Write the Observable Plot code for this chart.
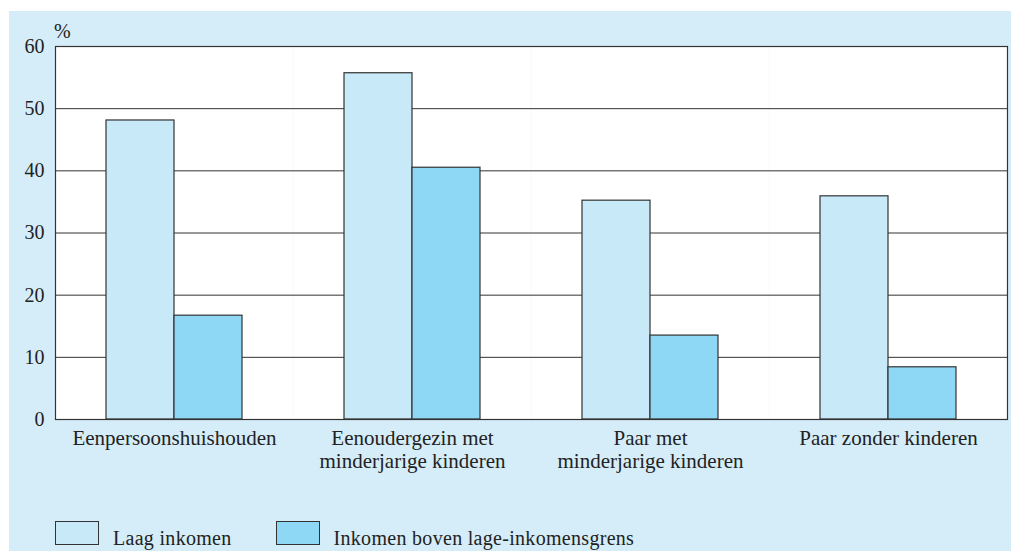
<!DOCTYPE html>
<html>
<head>
<meta charset="utf-8">
<script src="https://cdn.jsdelivr.net/npm/d3@7"></script>
<script src="https://cdn.jsdelivr.net/npm/@observablehq/plot@0.6"></script>
<style>
  html, body { margin: 0; padding: 0; background: #ffffff; }
  #panel {
    position: absolute; left: 9px; top: 11px; width: 1002px; height: 540px;
    background: #d5edf9; font-family: "Liberation Serif", serif; color: #222;
  }
  #chart svg { display: block; }
  #pct { position: absolute; left: 45px; top: 10px; font-size: 20px; line-height: 20px; }
  #legend { position: absolute; left: 46px; top: 510px; display: flex; align-items: flex-start; font-size: 20px; letter-spacing: 0.3px; }
  .item { display: flex; align-items: flex-start; margin-right: 44px; }
  .sw { width: 44px; height: 24px; border: 1px solid #333; box-sizing: border-box; margin-right: 14px; }
  .item span { line-height: 20px; margin-top: 7px; }
</style>
</head>
<body>
<div id="panel">
  <div id="chart"></div>
  <span id="pct">%</span>
  <div id="legend"></div>
</div>
<script>
const categories = ["Eenpersoonshuishouden", "Eenoudergezin met minderjarige kinderen", "Paar met minderjarige kinderen", "Paar zonder kinderen"];
const categoryLabels = ["Eenpersoonshuishouden", "Eenoudergezin met\nminderjarige kinderen", "Paar met\nminderjarige kinderen", "Paar zonder kinderen"];
const series = ["Laag inkomen", "Inkomen boven lage-inkomensgrens"];
const laagInkomen = [48.1, 55.7, 35.2, 35.9];
const bovenGrens = [16.7, 40.5, 13.5, 8.4];
const yTicks = [0, 10, 20, 30, 40, 50, 60];
const colors = ["#c7e9f8", "#8fd8f5"];

const data = [];
categories.forEach((c, i) => {
  data.push({cat: c, series: series[0], value: laagInkomen[i]});
  data.push({cat: c, series: series[1], value: bovenGrens[i]});
});

const labelMap = new Map(categories.map((c, i) => [c, categoryLabels[i]]));

const chart = Plot.plot({
  width: 1002,
  height: 469,
  marginLeft: 46,
  marginRight: 4,
  marginTop: 35,
  marginBottom: 61,
  style: {background: "transparent", fontFamily: "Liberation Serif, serif", fontSize: "20px", color: "#222"},
  fx: {domain: categories, paddingInner: 0, paddingOuter: 0, label: null},
  x: {domain: series, paddingInner: 0, paddingOuter: 0.75, axis: null},
  y: {domain: [0, 60]},
  color: {domain: series, range: colors},
  marks: [
    Plot.frame({fill: "white", stroke: "none"}),
    Plot.gridY(yTicks, {stroke: "#333", strokeOpacity: 1, strokeWidth: 1}),
    Plot.barY(data, {fx: "cat", x: "series", y: "value", fill: "series", stroke: "#333", strokeWidth: 1.2}),
    Plot.frame({facet: "super", stroke: "#333", strokeWidth: 1.2}),
    Plot.axisY({ticks: yTicks, tickSize: 0, tickPadding: 11, label: null, fontSize: 20, fill: "#222"}),
    Plot.axisFx({anchor: "bottom", tickSize: 0, tickPadding: 9, tickFormat: d => labelMap.get(d), lineHeight: 1.1, fontSize: 21, fill: "#222", label: null})
  ]
});
document.getElementById("chart").appendChild(chart);

const legend = document.getElementById("legend");
series.forEach((s, i) => {
  const item = document.createElement("div");
  item.className = "item";
  const sw = document.createElement("div");
  sw.className = "sw";
  sw.style.background = colors[i];
  const t = document.createElement("span");
  t.textContent = s;
  item.appendChild(sw);
  item.appendChild(t);
  legend.appendChild(item);
});
</script>
</body>
</html>
